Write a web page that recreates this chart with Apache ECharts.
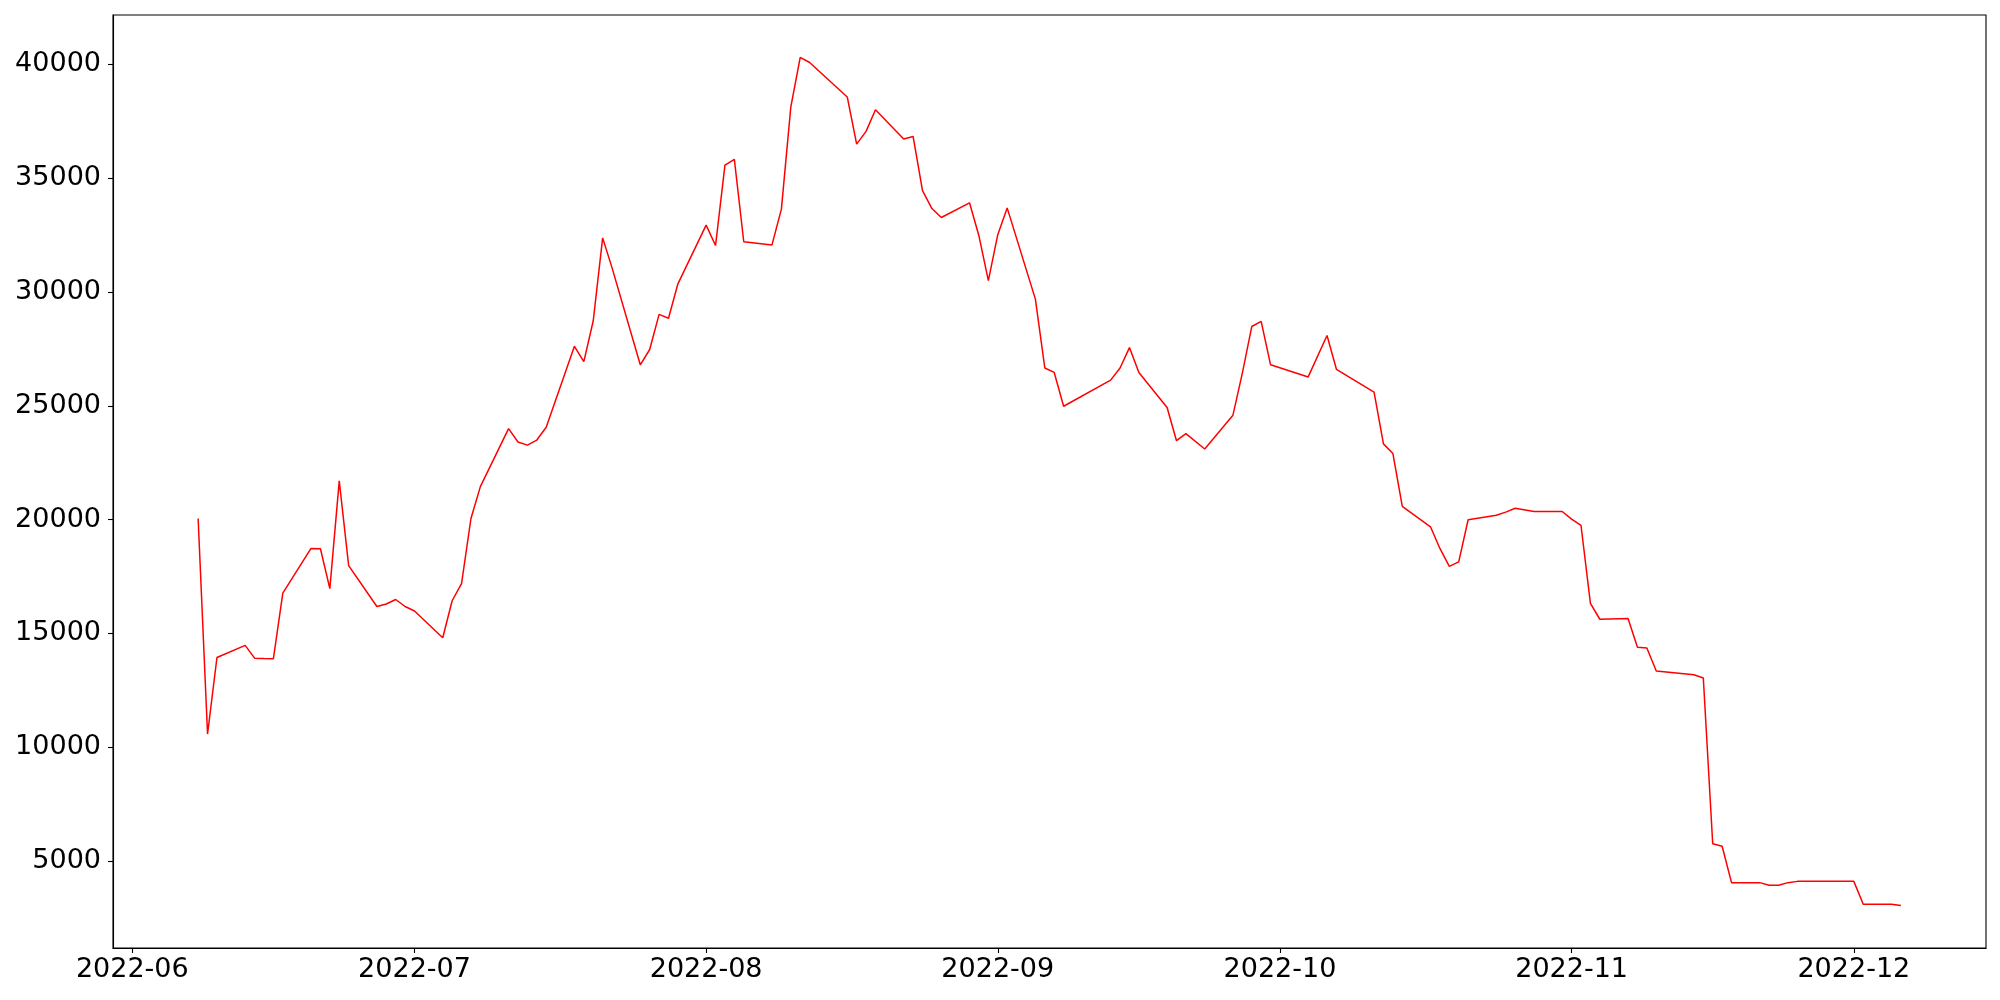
<!DOCTYPE html>
<html>
<head>
<meta charset="utf-8">
<script src="https://cdn.jsdelivr.net/npm/echarts@6/dist/echarts.min.js"></script>
<style>
html,body{margin:0;padding:0;background:#fff;}
#chart{width:2000px;height:1000px;}
</style>
</head>
<body>
<div id="chart"></div>
<script>
const dates = [
'2022-06-08','2022-06-09','2022-06-10','2022-06-13','2022-06-14','2022-06-15','2022-06-16','2022-06-17',
'2022-06-20','2022-06-21','2022-06-22','2022-06-23','2022-06-24','2022-06-27','2022-06-28','2022-06-29',
'2022-06-30','2022-07-01','2022-07-04','2022-07-05','2022-07-06','2022-07-07','2022-07-08','2022-07-11',
'2022-07-12','2022-07-13','2022-07-14','2022-07-15','2022-07-18','2022-07-19','2022-07-20','2022-07-21',
'2022-07-22','2022-07-25','2022-07-26','2022-07-27','2022-07-28','2022-07-29','2022-08-01','2022-08-02',
'2022-08-03','2022-08-04','2022-08-05','2022-08-08','2022-08-09','2022-08-10','2022-08-11','2022-08-12',
'2022-08-16','2022-08-17','2022-08-18','2022-08-19','2022-08-22','2022-08-23','2022-08-24','2022-08-25',
'2022-08-26','2022-08-29','2022-08-30','2022-08-31','2022-09-01','2022-09-02','2022-09-05','2022-09-06',
'2022-09-07','2022-09-08','2022-09-13','2022-09-14','2022-09-15','2022-09-16','2022-09-19','2022-09-20',
'2022-09-21','2022-09-23','2022-09-26','2022-09-27','2022-09-28','2022-09-29','2022-09-30','2022-10-04',
'2022-10-06','2022-10-07','2022-10-11','2022-10-12','2022-10-13','2022-10-14','2022-10-17','2022-10-18',
'2022-10-19','2022-10-20','2022-10-21','2022-10-24','2022-10-25','2022-10-26','2022-10-28','2022-10-31',
'2022-11-01','2022-11-02','2022-11-03','2022-11-04','2022-11-07','2022-11-08','2022-11-09','2022-11-10',
'2022-11-14','2022-11-15','2022-11-16','2022-11-17','2022-11-18','2022-11-21','2022-11-22','2022-11-23',
'2022-11-24','2022-11-25','2022-11-28','2022-12-01','2022-12-02','2022-12-05','2022-12-06'
];
const values = [
20050,10579,13941,14474,13914,13900,13890,16771,
18733,18720,16968,21703,17976,16183,16295,16491,
16183,15987,14810,16435,17192,20050,21451,24000,
23412,23272,23496,24057,27615,26943,28736,32379,
31062,26803,27475,29016,28848,30361,32939,32042,
35573,35825,32210,32070,33640,38123,40308,40084,
38571,36498,37058,38011,36722,36834,34452,33667,
33275,33920,32463,30501,32519,33696,29689,26663,
26467,24981,26130,26663,27559,26467,24925,23468,
23776,23104,24589,26438,28484,28708,26803,26270,
28092,26606,25598,23328,22908,20582,19686,18733,
17948,18144,19994,20190,20330,20498,20358,20358,
20022,19742,16323,15623,15651,14390,14362,13353,
13185,13045,5760,5648,4050,4050,3938,3938,
4050,4106,4106,4106,3098,3098,3042
];
const xTickDates = ['2022-06-01','2022-07-01','2022-08-01','2022-09-01','2022-10-01','2022-11-01','2022-12-01'];
const xTickLabels = ['2022-06','2022-07','2022-08','2022-09','2022-10','2022-11','2022-12'];
const yTickValues = [5000,10000,15000,20000,25000,30000,35000,40000];

function ts(s){ const p = s.split('-').map(Number); return Date.UTC(p[0], p[1]-1, p[2]); }
const x0 = ts(dates[0]), x1 = ts(dates[dates.length-1]);
const xr = x1 - x0;
const vmin = Math.min(...values), vmax = Math.max(...values);
const vr = vmax - vmin;
const xTicks = xTickDates.map(ts);
const labelMap = {};
xTicks.forEach((t,i)=>{ labelMap[t] = xTickLabels[i]; });

const chart = echarts.init(document.getElementById('chart'), null, {renderer:'canvas'});
const font = 'DejaVu Sans';
chart.setOption({
  animation: false,
  backgroundColor: '#ffffff',
  grid: {left:113, right:14, top:15, bottom:52, show:true, borderColor:'#000', borderWidth:1.1, containLabel:false, outerBoundsMode:'none'},
  xAxis: {
    type:'value',
    scale:true,
    min: x0 - 0.05*xr,
    max: x1 + 0.05*xr,
    splitLine:{show:false},
    axisLine:{show:true, lineStyle:{color:'#000', width:1.1}},
    axisTick:{show:true, length:5, lineStyle:{color:'#000', width:1.1}, customValues: xTicks},
    axisLabel:{
      customValues: xTicks,
      color:'#000', fontSize:27, fontFamily:font, margin:8,
      formatter: function(v){ return labelMap[v] !== undefined ? labelMap[v] : ''; }
    }
  },
  yAxis: {
    type:'value',
    min: vmin - 0.05*vr,
    max: vmax + 0.05*vr,
    splitLine:{show:false},
    axisLine:{show:true, lineStyle:{color:'#000', width:1.1}},
    axisTick:{show:true, length:5, lineStyle:{color:'#000', width:1.1}, customValues: yTickValues},
    axisLabel:{
      customValues: yTickValues,
      color:'#000', fontSize:27, fontFamily:font, margin:12,
      formatter: function(v){ return String(v); }
    }
  },
  series: [{
    type:'line',
    data: dates.map((d,i)=>[ts(d), values[i]]),
    showSymbol:false,
    symbol:'none',
    lineStyle:{color:'#ff0000', width:1.5},
    itemStyle:{color:'#ff0000'}
  }]
});
</script>
</body>
</html>
